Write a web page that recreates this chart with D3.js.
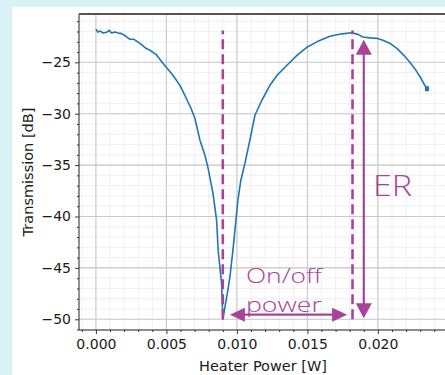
<!DOCTYPE html>
<html>
<head>
<meta charset="utf-8">
<script src="https://cdn.jsdelivr.net/npm/d3@7/dist/d3.min.js"></script>
<style>
  html, body { margin: 0; padding: 0; background: #d9f2f7; }
  svg { display: block; }
</style>
</head>
<body>
<script>
// Data
const powerW = [0, 0.00014, 0.00028, 0.00052, 0.00076, 0.00094, 0.00111, 0.00135, 0.00158, 0.00182,
  0.00213, 0.00241, 0.0027, 0.00312, 0.00355, 0.00383, 0.00426, 0.00475, 0.00511, 0.00546,
  0.00596, 0.00631, 0.00674, 0.00702, 0.00738, 0.00773, 0.00794, 0.0083, 0.00856, 0.00867,
  0.00891, 0.00899, 0.00901, 0.00915, 0.00936, 0.0095, 0.00972, 0.00986, 0.01007, 0.01028,
  0.01057, 0.01092, 0.01128, 0.01177, 0.01234, 0.01291, 0.01355, 0.01426, 0.01496, 0.01574,
  0.0166, 0.01745, 0.01816, 0.01858, 0.01894, 0.01943, 0.01993, 0.02035, 0.02085, 0.02135,
  0.02184, 0.02227, 0.0227, 0.02305, 0.02333, 0.02348];
const transmissionDb = [-21.79, -22.06, -21.96, -22.15, -22.08, -21.89, -22.15, -22.06, -22.15, -22.21,
  -22.47, -22.76, -22.76, -23.15, -23.64, -23.83, -24.22, -25.1, -25.68, -26.26,
  -27.24, -28.21, -29.47, -30.44, -32.58, -34.04, -35.2, -37.73, -40.35, -43.27,
  -46.48, -49.39, -49.98, -48.81, -47.16, -45.89, -43.27, -41.33, -38.41, -36.47,
  -34.82, -32.58, -30.15, -28.69, -27.24, -26.17, -25.29, -24.32, -23.54, -22.96,
  -22.47, -22.23, -22.13, -22.28, -22.54, -22.62, -22.67, -22.86, -23.15, -23.64,
  -24.32, -25.0, -25.78, -26.55, -27.24, -27.62];

const xTicks = [0, 0.005, 0.01, 0.015, 0.02];
const yTicks = [-50, -45, -40, -35, -30, -25];

// annotations
const dashedX = [0.009, 0.0182];
const dashedY = [-50, -21.9];
const erArrowX = 0.0190;
const erArrowY = [-49.9, -22.8];
const powerArrowY = -49.55;
const powerArrowX = [0.0095, 0.01782];

const W = 445, H = 375;
const PURPLE = "#a8439a";
const BLUE = "#1f77b4";

const svg = d3.select("body").append("svg")
  .attr("width", W).attr("height", H);

// white panel
svg.append("rect")
  .attr("x", 12).attr("y", 7)
  .attr("width", W - 12).attr("height", H - 7)
  .attr("fill", "#ffffff");

const x = d3.scaleLinear().domain([-0.0012, 0.02476]).range([79, 445]);
const y = d3.scaleLinear().domain([-51.04, -20.3]).range([330, 14]);

const [x0, x1] = x.range();
const [yb, yt] = y.range();

// ----- grid -----
const xMinor = d3.range(-1, 25).map(i => i * 0.001);
const yMinor = d3.range(-51, -20).map(i => i);

const grid = svg.append("g");
grid.selectAll(".xmin").data(xMinor).enter().append("line")
  .attr("x1", d => x(d)).attr("x2", d => x(d))
  .attr("y1", yt).attr("y2", yb)
  .attr("stroke", "#ececec").attr("stroke-width", 0.8);
grid.selectAll(".ymin").data(yMinor).enter().append("line")
  .attr("x1", x0).attr("x2", x1)
  .attr("y1", d => y(d)).attr("y2", d => y(d))
  .attr("stroke", "#ececec").attr("stroke-width", 0.8);
grid.selectAll(".xmaj").data(xTicks).enter().append("line")
  .attr("x1", d => x(d)).attr("x2", d => x(d))
  .attr("y1", yt).attr("y2", yb)
  .attr("stroke", "#c9c9c9").attr("stroke-width", 1.1);
grid.selectAll(".ymaj").data(yTicks).enter().append("line")
  .attr("x1", x0).attr("x2", x1)
  .attr("y1", d => y(d)).attr("y2", d => y(d))
  .attr("stroke", "#c9c9c9").attr("stroke-width", 1.1);

// ----- axes -----
const tickFont = "'DejaVu Sans', sans-serif";

const xAxis = svg.append("g").attr("transform", `translate(0,${yb})`);
xAxis.call(d3.axisBottom(x).tickValues(xTicks).tickSize(4).tickPadding(5)
  .tickFormat(d => d.toFixed(3)));
const xAxisMinor = svg.append("g").attr("transform", `translate(0,${yb})`);
xAxisMinor.call(d3.axisBottom(x).tickValues(xMinor.filter(d => !xTicks.some(t => Math.abs(t - d) < 1e-9)))
  .tickSize(2).tickFormat(""));

const yAxis = svg.append("g").attr("transform", `translate(${x0},0)`);
yAxis.call(d3.axisLeft(y).tickValues(yTicks).tickSize(4).tickPadding(4)
  .tickFormat(d => String(d).replace("-", "\u2212")));
const yAxisMinor = svg.append("g").attr("transform", `translate(${x0},0)`);
yAxisMinor.call(d3.axisLeft(y).tickValues(yMinor.filter(d => d % 5 !== 0))
  .tickSize(2).tickFormat(""));

[xAxis, yAxis, xAxisMinor, yAxisMinor].forEach(a => {
  a.select(".domain").remove();
  a.selectAll(".tick line").attr("stroke", "#222").attr("stroke-width", 0.9);
  a.selectAll("text").attr("font-family", tickFont).attr("font-size", 14).attr("fill", "#1a1a1a");
});

// spines
svg.append("line").attr("x1", x0).attr("x2", x0).attr("y1", yt).attr("y2", yb)
  .attr("stroke", "#222").attr("stroke-width", 1);
svg.append("line").attr("x1", x0).attr("x2", x1).attr("y1", yb).attr("y2", yb)
  .attr("stroke", "#222").attr("stroke-width", 1);
svg.append("line").attr("x1", x0).attr("x2", x1).attr("y1", yt).attr("y2", yt)
  .attr("stroke", "#555").attr("stroke-width", 1.8);

// axis labels
svg.append("text")
  .attr("x", 263).attr("y", 370.5)
  .attr("text-anchor", "middle")
  .attr("font-family", tickFont).attr("font-size", 14.5).attr("fill", "#1a1a1a")
  .text("Heater Power [W]");
svg.append("text")
  .attr("transform", `translate(33,${(yt + yb) / 2}) rotate(-90)`)
  .attr("text-anchor", "middle")
  .attr("font-family", tickFont).attr("font-size", 14.5).attr("fill", "#1a1a1a")
  .text("Transmission [dB]");

// ----- curve -----
const pts = powerW.map((p, i) => [p, transmissionDb[i]]);
svg.append("path")
  .datum(pts)
  .attr("d", d3.line().x(d => x(d[0])).y(d => y(d[1])))
  .attr("fill", "none")
  .attr("stroke", BLUE)
  .attr("stroke-width", 1.6)
  .attr("stroke-linejoin", "round");
// end blob
const last = pts[pts.length - 1];
svg.append("rect")
  .attr("x", x(last[0]) - 2).attr("y", y(last[1]) - 3)
  .attr("width", 4).attr("height", 5)
  .attr("fill", BLUE);

// ----- annotations -----
const ann = svg.append("g");
ann.selectAll(".dash").data(dashedX).enter().append("line")
  .attr("x1", d => x(d)).attr("x2", d => x(d))
  .attr("y1", y(dashedY[0])).attr("y2", y(dashedY[1]))
  .attr("stroke", PURPLE).attr("stroke-width", 2.6)
  .attr("stroke-dasharray", "10,5");

// vertical double arrow (ER)
const ax = x(erArrowX);
const aTop = y(erArrowY[1]), aBot = y(erArrowY[0]);
const headL = 15, headW = 8;
ann.append("line")
  .attr("x1", ax).attr("x2", ax).attr("y1", aTop + headL - 1).attr("y2", aBot - headL + 1)
  .attr("stroke", PURPLE).attr("stroke-width", 2.2);
ann.append("path")
  .attr("d", `M${ax},${aTop} L${ax - headW},${aTop + headL} L${ax + headW},${aTop + headL} Z`)
  .attr("fill", PURPLE);
ann.append("path")
  .attr("d", `M${ax},${aBot} L${ax - headW},${aBot - headL} L${ax + headW},${aBot - headL} Z`)
  .attr("fill", PURPLE);

// horizontal double arrow (on/off power)
const hy = y(powerArrowY);
const hL = x(powerArrowX[0]), hR = x(powerArrowX[1]);
const hHeadL = 15, hHeadW = 7;
ann.append("line")
  .attr("x1", hL + hHeadL - 1).attr("x2", hR - hHeadL + 1).attr("y1", hy).attr("y2", hy)
  .attr("stroke", PURPLE).attr("stroke-width", 2.2);
ann.append("path")
  .attr("d", `M${hL},${hy} L${hL + hHeadL},${hy - hHeadW} L${hL + hHeadL},${hy + hHeadW} Z`)
  .attr("fill", PURPLE);
ann.append("path")
  .attr("d", `M${hR},${hy} L${hR - hHeadL},${hy - hHeadW} L${hR - hHeadL},${hy + hHeadW} Z`)
  .attr("fill", PURPLE);

const annFont = "'Open Sans', 'Lato', sans-serif";
ann.append("text")
  .attr("x", x(0.01965)).attr("y", y(-38.02))
  .attr("font-family", annFont).attr("font-weight", 300).attr("font-size", 29)
  .attr("fill", PURPLE)
  .attr("textLength", 39).attr("lengthAdjust", "spacingAndGlyphs")
  .text("ER");
ann.append("text")
  .attr("x", x(0.01064)).attr("y", y(-46.45))
  .attr("font-family", annFont).attr("font-weight", 300).attr("font-size", 21)
  .attr("fill", PURPLE)
  .attr("textLength", 76).attr("lengthAdjust", "spacingAndGlyphs")
  .text("On/off");
ann.append("text")
  .attr("x", x(0.01064)).attr("y", y(-49.3))
  .attr("font-family", annFont).attr("font-weight", 300).attr("font-size", 21)
  .attr("fill", PURPLE)
  .attr("textLength", 76).attr("lengthAdjust", "spacingAndGlyphs")
  .text("power");
</script>
</body>
</html>
